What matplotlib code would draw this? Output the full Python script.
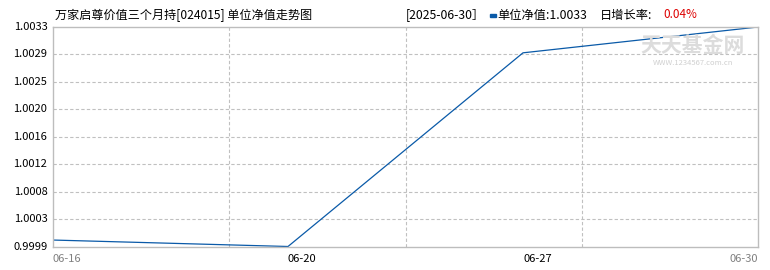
import matplotlib
matplotlib.use("Agg")
import matplotlib.pyplot as plt
import numpy as np

plt.rcParams["font.family"] = ["Noto Sans CJK SC", "DejaVu Sans"]

# NAV points (trading dates shown on the chart)
dates = ["06-16", "06-20", "06-27", "06-30"]
nav = [1.0000, 0.9999, 1.0029, 1.0033]
date_colors = ["#808080", "#000000", "#000000", "#808080"]

y_min, y_max = 0.9999, 1.0033
ytick_labels = ["0.9999", "1.0003", "1.0008", "1.0012", "1.0016",
                "1.0020", "1.0025", "1.0029", "1.0033"]

title = "万家启尊价值三个月持[024015] 单位净值走势图"
last_date = "2025-06-30"
last_nav = "1.0033"
last_growth = "0.04%"

W, H = 770, 270
fig = plt.figure(figsize=(W / 100, H / 100), dpi=100)
ax = fig.add_axes([53 / W, 1 - 246.5 / H, (758 - 53) / W, (246.5 - 27) / H])

x = np.arange(len(dates))
ax.plot(x, nav, color="#0a5aa8", linewidth=0.9)

ax.set_xlim(0, len(dates) - 1)
ax.set_ylim(y_min, y_max)

yt = np.linspace(y_min, y_max, len(ytick_labels))
ax.set_yticks(yt)
ax.set_yticklabels(ytick_labels, fontsize=8)
ax.tick_params(axis="y", length=0, pad=4)
ax.set_xticks([])
for lbl in ax.get_yticklabels():
    lbl.set_verticalalignment("center")

# dashed grid: horizontal at each y tick, vertical splitting the axis in 4
for v in yt[1:-1]:
    ax.axhline(v, color="#c0c0c0", linestyle=(0, (3, 2)), linewidth=0.8, zorder=0)
for v in np.linspace(0, len(dates) - 1, 5)[1:-1]:
    ax.axvline(v, color="#c0c0c0", linestyle=(0, (3, 2)), linewidth=0.8, zorder=0)

for s in ax.spines.values():
    s.set_color("#bdbdbd")
    s.set_linewidth(1.0)

# date labels, left-aligned at their point; last one right-aligned
for i, (d, c) in enumerate(zip(dates, date_colors)):
    ha = "right" if i == len(dates) - 1 else "left"
    ax.text(x[i], -0.055, d, transform=ax.get_xaxis_transform(), ha=ha, va="center",
            fontsize=8, color=c)

# watermark
fig.text(693 / W, 1 - 46 / H, "天天基金网", fontsize=15, color="#dcdcdc",
         ha="center", va="center", fontweight="bold", zorder=0)
fig.text(693 / W, 1 - 63 / H, "WWW.1234567.com.cn", fontsize=5.5, color="#d0d0d0",
         ha="center", va="center", zorder=0)

# header texts
ty = 1 - 15 / H
fig.text(55 / W, ty, title, fontsize=8.7, ha="left", va="center", color="#000000")
fig.text(406 / W, ty, f"[{last_date}］", fontsize=8.8, ha="left", va="center")
fig.patches.append(plt.Rectangle((490 / W, 1 - 16.5 / H), 6 / W, 3 / H,
                                 transform=fig.transFigure, color="#0a5aa8"))
fig.text(497 / W, ty, f"单位净值:{last_nav}", fontsize=8.8, ha="left", va="center")
fig.text(600 / W, ty, "日增长率:", fontsize=8.8, ha="left", va="center")
fig.text(663 / W, ty, last_growth, fontsize=8.5, ha="left", va="center", color="#dd0000")

fig.savefig("out.png", dpi=100)
